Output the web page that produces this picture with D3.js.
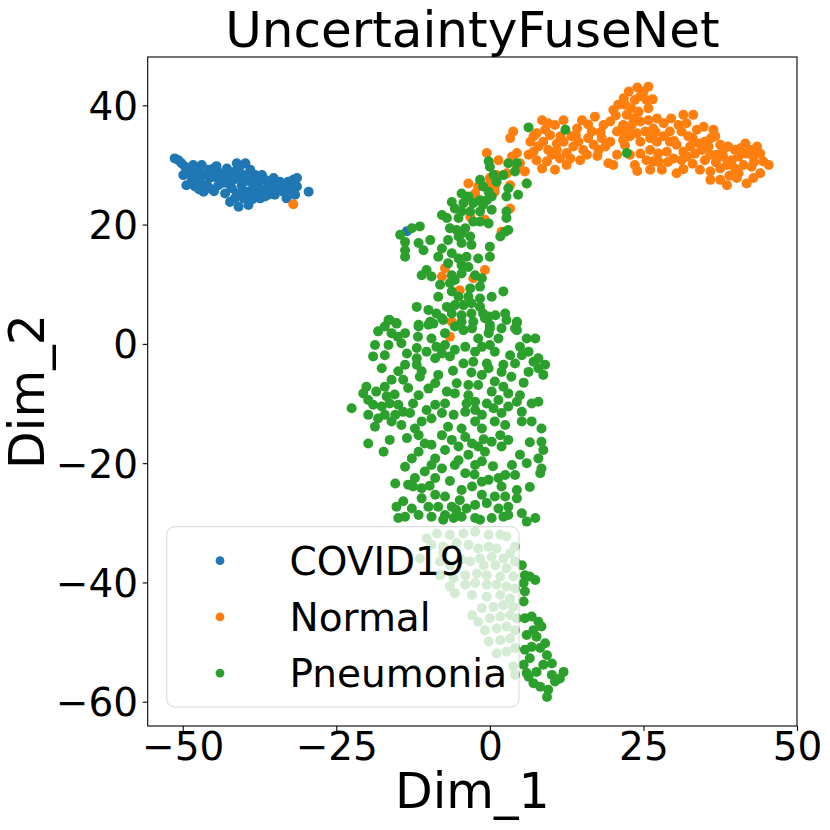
<!DOCTYPE html>
<html>
<head>
<meta charset="utf-8">
<script src="https://cdn.jsdelivr.net/npm/d3@7"></script>
<style>
  body { margin: 0; background: #fff; }
  svg { display: block; font-family: "DejaVu Sans", sans-serif; }
</style>
</head>
<body>
<svg width="830" height="830"></svg>
<script>
let width = 830, height = 830;

// t-SNE embedding points, [Dim_1, Dim_2]
const covid = [
  [-51.3,31.1],[-50.7,30.8],[-50.2,30.3],[-49.6,29.7],[-48.8,29.4],[-49.1,28.6],[-48.3,28.9],[-47.7,28.0],
  [-48.5,27.5],[-49.4,26.6],[-48.0,26.4],[-46.9,30.0],[-46.6,28.3],[-45.8,29.2],[-45.0,29.4],[-45.6,27.8],
  [-46.1,26.6],[-46.6,25.5],[-44.7,28.0],[-44.2,26.6],[-43.9,28.6],[-42.8,29.4],[-42.3,28.3],[-42.6,26.9],
  [-43.1,25.2],[-42.0,26.1],[-41.2,30.3],[-40.7,29.7],[-41.5,28.9],[-40.9,27.8],[-40.1,28.3],[-40.4,26.6],
  [-41.2,25.2],[-42.3,23.8],[-40.9,23.0],[-40.1,24.4],[-39.3,25.5],[-39.0,27.2],[-39.0,29.2],[-38.2,28.3],
  [-37.7,26.9],[-38.0,25.5],[-37.1,28.3],[-36.6,27.5],[-36.3,26.1],[-35.8,27.2],[-35.2,27.8],[-34.7,26.6],
  [-35.0,25.0],[-36.1,25.0],[-37.4,24.4],[-39.3,23.3],[-34.2,27.2],[-33.3,26.6],[-32.8,27.2],[-32.0,27.5],
  [-32.3,25.8],[-31.4,26.4],[-31.7,25.0],[-33.1,24.4],[-33.6,25.5],[-29.5,25.5],[-31.4,27.8],[-34.4,26.1],
  [-43.4,27.8],[-47.2,27.2],[-49.9,28.3],[-48.3,30.0],[-45.6,26.1],[-39.6,27.8],[-38.5,26.1],[-41.5,24.4],
  [-40.4,25.5],[-36.6,24.7],[-47.5,29.4],[-44.5,29.8],[-43.5,27.0],[-41.8,27.5],[-39.8,30.3],[-38.6,24.3],
  [-37.0,25.8],[-35.5,26.0],[-44.9,25.6],[-47.3,25.9],[-13.5,18.9]
];

const normal = [
  [-0.5,32.0],[1.4,30.8],[-1.9,26.4],[-2.4,25.2],[0.0,27.8],[0.9,26.6],[2.8,28.6],[4.4,29.7],[4.9,30.3],
  [3.6,31.4],[5.7,28.9],[6.0,26.9],[3.3,34.5],[3.8,35.6],[4.4,32.0],[6.3,31.7],[6.6,33.9],[7.1,34.8],
  [7.6,35.3],[8.5,37.5],[9.0,35.9],[9.8,35.0],[10.6,36.7],[8.7,33.9],[7.9,33.1],[7.1,32.2],[7.6,30.8],
  [8.5,29.4],[9.3,30.6],[10.1,31.7],[10.9,32.5],[11.4,31.1],[10.6,29.2],[12.5,30.0],[12.5,32.0],[13.6,33.1],
  [14.4,33.9],[15.0,37.5],[14.2,36.1],[13.3,34.8],[15.2,32.5],[16.0,34.5],[16.9,33.4],[17.7,32.5],[18.2,34.5],
  [18.8,33.1],[19.6,33.9],[20.7,31.7],[19.3,30.3],[20.1,30.0],[17.1,38.1],[18.5,36.7],[19.6,37.3],[20.1,39.2],
  [20.9,40.1],[21.8,41.2],[22.6,42.3],[21.5,36.1],[22.0,34.8],[20.7,35.6],[10.9,33.6],[9.5,32.5],[12.0,33.9],
  [13.1,31.1],[15.8,31.7],[16.6,35.6],[14.7,30.8],
  [25.8,43.1],[25.0,42.3],[24.5,41.5],[22.0,40.1],[23.6,40.9],[25.5,40.9],[25.8,39.5],[24.2,38.9],[23.4,37.8],
  [22.3,38.4],[21.7,36.7],[23.1,36.7],[24.5,37.3],[25.8,37.5],[27.2,37.8],[28.3,37.0],[26.6,36.1],[25.3,35.6],
  [23.9,35.3],[22.8,34.8],[21.7,34.2],[24.5,33.9],[26.1,34.5],[27.2,33.9],[28.3,34.8],[29.3,35.6],[30.7,36.7],
  [31.5,38.4],[33.1,38.4],[31.2,35.6],[32.3,34.8],[33.7,35.9],[34.8,36.4],[36.4,35.9],[36.7,34.8],[35.0,33.9],
  [34.0,33.6],[32.6,33.1],[31.5,32.2],[30.4,33.4],[29.3,33.9],[28.8,32.2],[29.9,31.1],[31.2,30.8],[32.1,31.4],
  [33.4,31.9],[34.5,32.5],[35.6,33.1],[37.5,33.4],[38.8,33.1],[39.9,32.5],[41.6,33.6],[43.5,33.1],[44.0,31.9],
  [42.9,31.4],[41.8,31.9],[40.5,31.4],[39.4,30.8],[38.0,31.4],[36.9,31.7],[35.9,31.7],[35.0,30.8],[34.2,29.2],
  [35.9,28.9],[37.5,29.4],[38.6,30.0],[39.9,29.4],[41.3,30.0],[42.6,29.7],[44.5,30.6],[45.4,30.0],[44.0,28.6],
  [42.9,27.8],[41.8,26.9],[40.2,27.8],[38.6,26.6],[37.5,27.5],[35.9,27.5],[30.4,28.6],[28.0,29.2],[26.1,29.2],
  [23.6,30.0],[22.8,31.7],[24.5,31.9],[26.1,32.5],[27.4,31.9],[25.5,30.8],[26.6,30.6],
  [27.0,35.5],[29.5,37.8],[32.0,37.0],[30.0,34.0],[33.0,34.5],[36.0,34.5],[38.0,32.5],[40.8,32.8],[42.5,32.5],
  [43.0,30.5],[40.5,28.6],[39.0,28.2],[36.8,30.4],[33.0,30.2],[31.5,29.3],[29.0,30.5],[27.5,30.5],[24.0,29.0],
  [22.5,36.0],[20.5,38.3],[18.0,35.5],[16.0,36.8],[14.0,35.0],[11.5,34.8],[9.5,37.0],[12.0,37.5],[17.5,31.5],
  [22.0,33.3],[24.0,43.0],[26.5,41.0],[23.0,39.5],
  [1.1,28.3],[0.0,26.9],[0.8,25.5],[-3.5,26.9],[3.3,26.6],[3.3,22.7],[-3.2,21.3],[-0.8,20.8],[1.9,18.8],
  [-7.3,12.7],[-7.8,11.3],[-0.8,12.4],[-4.9,9.0],[-6.2,3.7],[-6.5,1.2],[-2.7,11.0],[-32.0,23.4]
];

const pneumonia = [
  [6.3,36.3],[12.3,35.9],[22.3,32.0],
  [-0.2,30.6],[0.0,29.7],[0.6,28.3],[2.2,28.3],[3.0,30.3],[4.1,28.9],[4.4,30.3],[6.0,26.9],[-1.6,27.5],
  [-1.1,26.4],[1.1,27.2],[-0.2,25.5],[3.0,26.1],[4.6,25.0],[2.7,24.7],[-4.6,25.2],[-3.5,24.7],[-1.6,24.1],
  [-0.5,24.1],[0.3,24.7],[-6.2,23.8],[-5.7,22.7],[-4.3,23.6],[-2.7,23.6],[-1.1,23.3],[0.3,22.5],[-4.6,22.2],
  [-3.2,22.2],[-1.6,22.2],[-7.8,21.6],[-7.0,21.1],[-5.1,21.1],[-2.7,20.5],[-1.6,20.5],[-0.2,20.2],[2.7,22.2],
  [2.7,21.1],[2.5,18.8],[1.7,18.0],[3.0,19.1],[-11.4,19.7],[-12.7,19.4],[-14.6,18.3],[-13.8,17.1],[-13.8,15.7],
  [-13.8,14.6],[-6.5,19.4],[-5.4,19.1],[-4.0,19.4],[-6.8,17.4],[-5.1,18.0],[-4.6,18.5],[-3.2,18.0],[-3.0,16.6],
  [-4.6,16.9],[-11.6,16.9],[-10.8,15.7],[-9.7,17.4],[-7.8,16.0],[-8.4,14.6],[-6.2,15.2],[-5.1,14.3],[-3.8,14.6],
  [-1.9,14.3],[0.0,16.3],[0.0,14.6],[-6.8,13.5],[-4.6,13.2],[-3.5,12.9],[-6.2,11.5],[-4.6,11.8],[-2.4,11.5],
  [-1.3,11.0],[-1.6,9.6],[-3.2,9.3],[-5.7,10.7],[-10.3,12.4],[-11.1,11.5],[-9.5,11.3],[-8.1,9.9],[-6.5,10.2],
  [-6.2,8.8],[-5.1,7.9],[-3.5,7.9],[-1.6,7.6],[0.3,7.9],[2.2,8.8],[-8.4,7.9],[-11.9,6.2],[-10.0,5.7],
  [-8.7,5.1],[-7.0,6.2],[-5.7,6.5],[-4.3,6.5],[-3.0,6.8],[-1.6,6.2],[-1.1,5.1],[-3.0,5.1],[-4.6,4.8],
  [-7.6,4.0],[-9.2,3.4],[-6.2,5.1],[-0.2,4.6],[0.9,4.8],[2.5,5.1],[-16.3,4.0],[-17.1,2.9],[-15.2,3.4],
  [-11.6,3.2],[-10.0,3.2],[-5.7,2.9],[-2.7,3.7],[0.0,3.2],[4.4,3.7],[4.1,2.6],
  [-16.5,4.0],[-15.2,3.5],[-11.6,2.9],[-9.7,3.7],[-7.8,4.3],[-4.6,3.7],[-2.9,2.6],[-0.8,4.3],[0.0,2.6],
  [1.9,2.6],[4.4,3.5],[4.4,2.3],[-18.2,2.1],[-16.0,1.8],[-13.8,1.8],[-11.7,1.2],[-9.5,0.9],[-7.3,1.8],
  [-4.3,2.3],[-1.9,0.9],[1.4,0.9],[-0.2,1.8],[2.7,4.0],[-18.7,-0.2],[-16.5,-0.2],[-14.4,0.1],[-13.5,-1.6],
  [-11.9,-0.7],[-10.3,-1.3],[-8.7,-0.5],[-7.8,-1.6],[-6.5,-2.1],[-5.7,-1.0],[-4.0,-0.5],[-2.4,-1.3],[-1.3,-0.5],
  [0.0,-0.2],[0.8,-1.3],[3.3,-1.9],[4.9,-0.5],[6.0,0.9],[7.4,0.9],[5.2,-1.9],[-19.0,-2.1],[-17.1,-1.9],
  [-11.9,-2.4],[-8.9,-2.4],[-7.3,-0.2],[-4.3,-3.3],[-2.7,-3.0],[-0.5,-3.3],[2.2,-3.5],[4.1,-3.3],[6.3,-1.3],
  [7.9,-2.4],[-17.6,-4.1],[-14.9,-4.6],[-13.8,-3.5],[-11.9,-3.5],[-11.1,-4.6],[-8.4,-5.2],[-8.9,-6.6],[-14.1,-6.0],
  [-13.3,-7.4],[-11.4,-5.5],[-11.6,-8.6],[-5.4,-6.6],[-3.5,-6.9],[-1.3,-5.2],[-1.9,-6.9],[0.8,-6.3],[-0.2,-4.1],
  [1.9,-4.7],[2.2,-7.2],[3.0,-8.3],[4.9,-8.6],[6.3,-4.7],[7.9,-4.1],[8.7,-5.2],[9.0,-3.5],[7.1,-3.0],
  [-20.1,-7.2],[-20.6,-8.3],[-17.1,-7.2],[-16.8,-8.8],[-5.7,-8.3],[-3.5,-8.6],[-2.4,-9.7],[0.3,-8.0],[1.4,-9.4],
  [-22.5,-10.8],[-19.8,-9.4],[-19.0,-10.2],[-17.6,-10.5],[-16.3,-10.0],[-14.9,-10.2],[-14.1,-11.4],[-15.4,-11.9],
  [-17.1,-11.9],[-18.2,-12.5],[-19.8,-11.9],[-18.7,-13.9],[-16.0,-13.0],[-14.4,-13.6],[-13.0,-11.6],[-10.3,-11.1],
  [-8.9,-10.2],[-7.3,-10.0],[-7.8,-11.6],[-9.5,-12.5],[-11.1,-13.0],[-12.2,-14.2],[-5.9,-11.9],[-4.0,-11.4],
  [-3.8,-10.0],[-2.4,-11.1],[-1.3,-11.9],[-0.5,-10.0],[0.6,-10.8],[1.9,-11.6],[3.0,-10.5],[4.4,-9.7],[5.2,-11.4],
  [6.8,-10.0],[7.9,-9.7],[5.2,-13.0],[6.8,-13.0],[8.4,-14.2],[0.8,-13.0],[2.5,-13.6],[-2.4,-13.0],[-4.6,-14.2],
  [-6.8,-13.9],[-1.3,-14.2],[-19.8,-16.7],[-17.3,-18.1],[-16.3,-16.1],[-13.5,-15.8],[-11.6,-15.3],[-10.6,-16.7],
  [-11.6,-18.1],[-12.7,-19.2],[-9.5,-16.9],[-7.8,-15.3],[-6.2,-16.1],[-5.1,-17.2],[-4.0,-15.6],[-2.9,-16.7],
  [-3.5,-18.6],[-1.9,-17.2],[-0.8,-18.1],[0.3,-16.4],[1.9,-17.2],[3.0,-16.1],[1.7,-15.3],[-1.3,-19.7],[-2.4,-20.3],
  [-5.1,-19.5],[-7.3,-17.8],[-8.9,-19.2],[8.4,-16.4],[8.7,-17.8],[7.9,-19.2],[4.9,-18.6],[3.6,-20.3],
  [-13.8,-20.6],[-12.2,-22.5],[-10.6,-21.4],[-8.9,-22.5],[-7.8,-20.9],[-9.5,-20.3],[-11.1,-24.2],[-12.5,-23.9],
  [-15.4,-23.4],[-13.3,-23.6],[-4.0,-21.7],[-5.7,-20.3],[-4.6,-24.5],[-2.9,-23.9],[-1.3,-23.1],[-0.2,-22.8],
  [1.4,-22.5],[2.5,-22.0],[1.9,-23.9],[4.1,-22.0],[4.4,-24.5],[8.4,-20.9],[8.2,-21.7],
  [-15.2,-27.3],[-14.1,-26.4],[-12.7,-27.6],[-11.1,-25.9],[-10.0,-27.3],[-8.9,-25.3],[-8.4,-27.3],[-7.3,-25.6],
  [-6.2,-27.3],[-4.9,-26.2],[-3.8,-27.6],[-2.4,-27.0],[-1.3,-25.3],[-0.5,-26.7],[0.8,-25.6],[2.5,-25.6],
  [1.4,-27.6],[3.0,-27.3],[4.4,-25.9],[5.2,-28.4],[7.4,-29.2],[-14.9,-29.2],[-13.8,-29.0],[-11.6,-28.7],
  [-9.5,-29.0],[-7.3,-28.7],[-5.9,-29.2],[-4.6,-29.0],[-2.4,-29.2],[0.3,-29.2],[3.0,-28.7],
  [-7.6,-29.5],[-1.6,-29.5],[2.2,-29.0],[6.0,-29.8],
  [-15.5,-8.5],[-18.5,-8.0],[-16.0,-6.0],[-12.5,-10.0],[-6.0,-4.5],[-3.0,-4.8],[3.5,-5.5],[5.5,-6.5],
  [6.5,-16.5],[6.0,-20.0],[6.5,-24.0],[-6.5,-23.0],[-9.8,-23.8],[-2.5,-21.9],[-1.0,-16.0],[0.5,-20.5],
  [-10.0,-7.5],[-7.0,-8.0],[-15.0,1.2],[-5.5,-27.8],
  [-8.6,-31.8],[-6.5,-32.0],[-4.3,-31.8],[-2.4,-31.5],[-0.2,-32.0],[1.7,-32.0],[2.7,-32.3],[-9.5,-33.7],
  [-7.6,-34.0],[-5.4,-33.4],[-3.5,-33.7],[-1.9,-34.3],[-0.2,-34.0],[1.1,-34.3],[-1.6,-36.0],[0.3,-35.7],
  [2.2,-36.0],[3.3,-35.1],[4.1,-34.0],[-8.1,-36.5],[-6.5,-37.1],[-4.6,-36.2],[-3.2,-36.5],[-1.0,-37.1],
  [0.9,-37.1],[2.7,-37.6],[4.1,-36.5],[-8.1,-38.8],[-5.9,-39.3],[-4.0,-38.8],[-2.1,-38.5],[-0.5,-38.8],
  [1.7,-39.0],[3.8,-39.0],[-6.5,-40.7],[-4.0,-40.4],[-2.4,-40.1],[-0.5,-40.4],[1.1,-40.4],[2.7,-40.7],
  [4.1,-41.0],[-5.7,-41.8],[-2.9,-42.1],[-0.5,-42.4],[1.7,-42.1],[3.3,-42.7],[-2.9,-45.5],[-1.3,-44.3],
  [0.6,-44.1],[2.2,-43.8],[3.8,-44.1],[-1.9,-46.6],[0.0,-46.0],[1.7,-45.7],[3.3,-45.5],[4.4,-46.0],
  [-0.8,-48.0],[1.1,-47.7],[2.7,-47.4],[4.1,-48.0],[-0.2,-49.9],[1.7,-49.7],[3.3,-49.4],[1.1,-51.9],
  [2.7,-51.6],[4.1,-51.0],[3.8,-54.1],[4.1,-55.5],[-10.3,-32.6],[-11.4,-36.0],[-7.6,-35.1],
  [5.2,-37.1],[5.7,-38.8],[6.5,-39.0],[7.4,-39.6],[5.5,-40.1],[5.7,-41.5],[5.5,-43.2],[5.7,-46.0],
  [6.8,-45.7],[7.9,-46.6],[8.4,-47.4],[7.1,-48.0],[6.0,-48.8],[7.6,-49.1],[9.0,-50.2],[8.2,-51.0],
  [6.8,-50.8],[5.7,-51.3],[6.5,-52.7],[9.3,-52.2],[10.1,-53.6],[8.7,-53.8],[7.6,-55.0],[6.3,-55.8],
  [7.1,-56.9],[8.2,-57.5],[9.5,-58.0],[9.3,-59.2],[10.6,-56.6],[11.4,-56.1],[12.0,-55.0],[10.1,-55.5],
  [5.5,-53.8],[6.0,-55.2]
];

const classes = ["COVID19", "Normal", "Pneumonia"];
const colors = ["#1f77b4", "#ff7f0e", "#2ca02c"];
const series = [covid, normal, pneumonia];
const xTicks = [-50, -25, 0, 25, 50];
const yTicks = [-60, -40, -20, 0, 20, 40];

const mLeft = 147.7, mRight = 797, mTop = 57, mBottom = 726;

let svg = d3.select("svg");

let x = d3.scaleLinear().domain([-55.7, 50.0]).range([mLeft, mRight]);
let y = d3.scaleLinear().domain([-64.07, 48.1]).range([mBottom, mTop]);

// points, one class after another
let pts = svg.append("g").attr("id", "points");
series.forEach((data, i) => {
    pts.append("g")
        .selectAll("circle")
        .data(data)
        .enter()
        .append("circle")
        .attr("cx", d => x(d[0]))
        .attr("cy", d => y(d[1]))
        .attr("r", 5)
        .attr("fill", colors[i]);
});

// axes
let xAxis = svg.append("g")
    .attr("transform", `translate(0,${mBottom})`)
    .call(d3.axisBottom(x).tickValues(xTicks).tickSize(4.9).tickSizeOuter(0));
xAxis.selectAll("text")
    .attr("y", 34).attr("dy", 0)
    .style("font-size", "39px").attr("fill", "#000");

let yAxis = svg.append("g")
    .attr("transform", `translate(${mLeft},0)`)
    .call(d3.axisLeft(y).tickValues(yTicks).tickSize(4.9).tickSizeOuter(0));
yAxis.selectAll("text")
    .attr("x", -9.6).attr("dy", "0.36em")
    .style("font-size", "39px").attr("fill", "#000");

[xAxis, yAxis].forEach(a => {
    a.select(".domain").remove();
    a.selectAll("line").attr("stroke", "#000").attr("stroke-width", 1.1);
    a.attr("font-family", null);
});

// frame
svg.append("rect")
    .attr("x", mLeft).attr("y", mTop)
    .attr("width", mRight - mLeft).attr("height", mBottom - mTop)
    .attr("fill", "none")
    .attr("stroke", "#000")
    .attr("stroke-width", 1.1);

// titles
svg.append("text")
    .attr("x", (mLeft + mRight) / 2).attr("y", 47)
    .attr("text-anchor", "middle")
    .style("font-size", "50px")
    .text("UncertaintyFuseNet");

svg.append("text")
    .attr("x", (mLeft + mRight) / 2).attr("y", 808)
    .attr("text-anchor", "middle")
    .style("font-size", "49px")
    .text("Dim_1");

svg.append("text")
    .attr("transform", `translate(44,${(mTop + mBottom) / 2}) rotate(-90)`)
    .attr("text-anchor", "middle")
    .style("font-size", "49px")
    .text("Dim_2");

// legend
let legend = svg.append("g").attr("id", "legend");
legend.append("rect")
    .attr("x", 166.7).attr("y", 526.7)
    .attr("width", 352.3).attr("height", 180.3)
    .attr("rx", 8).attr("ry", 8)
    .attr("fill", "#fff").attr("fill-opacity", 0.8)
    .attr("stroke", "#ccc").attr("stroke-opacity", 0.8)
    .attr("stroke-width", 1);

let items = legend.selectAll("g.item")
    .data(classes)
    .enter()
    .append("g")
    .attr("class", "item")
    .attr("transform", (d, i) => `translate(0,${560.7 + i * 56.2})`);

items.append("circle")
    .attr("cx", 220).attr("cy", 0).attr("r", 4.4)
    .attr("fill", (d, i) => colors[i]);

items.append("text")
    .attr("x", 289.5).attr("dy", "0.36em")
    .style("font-size", "39px")
    .text(d => d);
</script>
</body>
</html>
